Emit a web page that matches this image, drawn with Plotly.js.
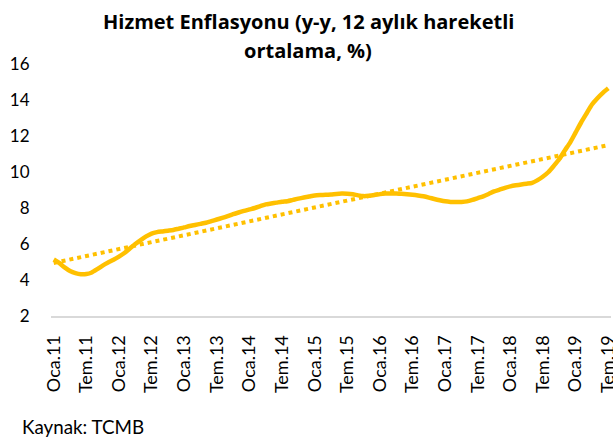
<!DOCTYPE html>
<html>
<head>
<meta charset="utf-8">
<script src="https://cdn.plot.ly/plotly-3.0.1.min.js"></script>
<style>html,body{margin:0;padding:0;background:#fff;}#chart{width:613px;height:438px;}</style>
</head>
<body>
<div id="chart"></div>
<script>
// Month abbreviations (Turkish) and years covered
const monthNames = ['Oca','Şub','Mar','Nis','May','Haz','Tem','Ağu','Eyl','Eki','Kas','Ara'];
const startYear = 11;
// Services inflation, y-y, 12-month moving average, %, Jan 2011 .. Jul 2019
const hizmet = [
  5.14, 4.95, 4.70, 4.50, 4.38, 4.32, 4.33, 4.42, 4.60, 4.80, 4.97, 5.12,
  5.30, 5.50, 5.75, 6.00, 6.22, 6.42, 6.58, 6.66, 6.70, 6.74, 6.78, 6.85,
  6.92, 7.00, 7.06, 7.12, 7.18, 7.27, 7.36, 7.45, 7.55, 7.66, 7.75, 7.84,
  7.92, 8.00, 8.10, 8.20, 8.25, 8.30, 8.35, 8.38, 8.45, 8.52, 8.58, 8.64,
  8.70, 8.72, 8.73, 8.75, 8.78, 8.80, 8.79, 8.76, 8.70, 8.66, 8.68, 8.72,
  8.77, 8.80, 8.81, 8.80, 8.79, 8.77, 8.74, 8.70, 8.65, 8.58, 8.50, 8.43,
  8.37, 8.34, 8.33, 8.34, 8.37, 8.45, 8.55, 8.65, 8.78, 8.92, 9.02, 9.12,
  9.20, 9.26, 9.31, 9.35, 9.40, 9.55, 9.75, 10.00, 10.35, 10.72, 11.20, 11.65,
  12.20, 12.75, 13.25, 13.75, 14.10, 14.40, 14.65
];
const yTicks = [2, 4, 6, 8, 10, 12, 14, 16];
const titleLines = ['Hizmet Enflasyonu (y-y, 12 aylık hareketli', 'ortalama, %)'];
const sourceText = 'Kaynak: TCMB';

// category labels
const labels = hizmet.map((v, i) => monthNames[i % 12] + '.' + (startYear + Math.floor(i / 12)));
const tickLabels = labels.filter((l, i) => i % 6 === 0);

// linear trend (least squares, like Excel's trendline)
const n = hizmet.length;
let sx = 0, sy = 0, sxx = 0, sxy = 0;
hizmet.forEach((v, i) => { sx += i; sy += v; sxx += i * i; sxy += i * v; });
const slope = (n * sxy - sx * sy) / (n * sxx - sx * sx);
const intercept = (sy - slope * sx) / n;
const trend = hizmet.map((v, i) => intercept + slope * i);

const gold = '#FFC000';
const font = 'Lato, "Open Sans", sans-serif';
const titleFont = '"Open Sans", Lato, sans-serif';
const H = 252, TOP = 64, L = 51, W = 560;
const py = (px) => (TOP + H - px) / H;   // pixel row -> paper y
const pxX = (px) => (px - L) / W;        // pixel col -> paper x

const traces = [
  { type: 'scatter', mode: 'lines', x: labels, y: trend,
    line: { color: gold, width: 4, dash: 'dot' }, hoverinfo: 'skip' },
  { type: 'scatter', mode: 'lines', x: labels, y: hizmet,
    line: { color: gold, width: 4.5, shape: 'spline', smoothing: 0.6 } }
];

const layout = {
  width: 613, height: 438,
  margin: { l: L, r: 613 - L - W, t: TOP, b: 438 - TOP - H },
  paper_bgcolor: '#fff', plot_bgcolor: '#fff',
  showlegend: false,
  font: { family: font, color: '#000', size: 16 },
  xaxis: { type: 'category', range: [-0.5, n - 0.5], tickmode: 'array', tickvals: tickLabels, ticktext: tickLabels,
    tickangle: -90, showgrid: false, zeroline: false, showline: true, linecolor: '#D9D9D9', linewidth: 2,
    ticks: 'outside', ticklen: 10, tickcolor: 'rgba(0,0,0,0)', tickfont: { size: 18, family: font, color: '#000' } },
  yaxis: { range: [2, 16], tickmode: 'array', tickvals: yTicks, showgrid: false, zeroline: false, showline: false,
    ticks: 'outside', ticklen: 17, tickcolor: 'rgba(0,0,0,0)', tickfont: { size: 17, family: font, color: '#000' } },
  annotations: [
    { text: '<b>' + titleLines[0] + '</b>', xref: 'paper', yref: 'paper', x: pxX(308), y: py(22),
      xanchor: 'center', yanchor: 'middle', showarrow: false, font: { family: titleFont, size: 20, color: '#000' } },
    { text: '<b>' + titleLines[1] + '</b>', xref: 'paper', yref: 'paper', x: pxX(308), y: py(51),
      xanchor: 'center', yanchor: 'middle', showarrow: false, font: { family: titleFont, size: 20, color: '#000' } },
    { text: sourceText, xref: 'paper', yref: 'paper', x: pxX(20), y: py(426),
      xanchor: 'left', yanchor: 'middle', showarrow: false, font: { family: font, size: 18.8, color: '#000' } }
  ]
};

Plotly.newPlot('chart', traces, layout, { displayModeBar: false, staticPlot: true });
</script>
</body>
</html>
